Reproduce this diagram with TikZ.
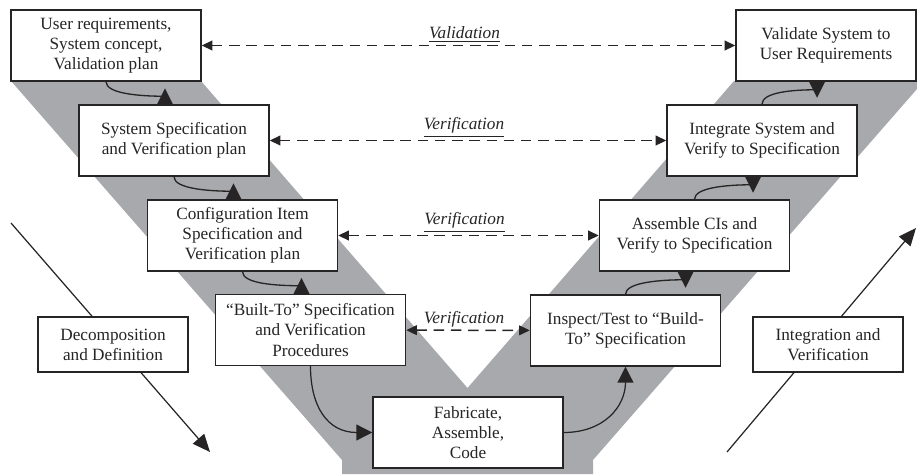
\documentclass[tikz,border=0pt]{standalone}
\usepackage{fontspec}
\setmainfont{Liberation Serif}
\usetikzlibrary{arrows.meta,calc}
\definecolor{bandgray}{RGB}{167,169,172}
\definecolor{inkgray}{RGB}{38,36,36}

\begin{document}
\begin{tikzpicture}[x = 0.02cm, y = -0.02cm,
        stagebox/.style = {draw = inkgray, line width = 0.85pt, fill = white, text = inkgray,
            align = center, minimum width = 3.8cm, minimum height = 1.42cm, inner sep = 2pt,
            font = \fontsize{9.8}{11.4}\selectfont},
        sidebox/.style = {stagebox, minimum width = 3cm, minimum height = 1.1cm},
        checkline/.style = {draw = inkgray, line width = 0.85pt, dash pattern = on 6pt off 3.8pt,
            {Triangle[length = 6pt, width = 5.5pt]}-{Triangle[length = 6pt, width = 5.5pt]}},
        checklabel/.style = {anchor = south, inner sep = 1.5pt, xshift = -0.08cm, text = inkgray,
            font = \fontsize{9.8}{11.4}\selectfont\itshape},
        flow/.style = {draw = inkgray, line width = 0.7pt, -{Triangle[length = 9pt, width = 9pt]}},
        link/.style = {draw = inkgray, line width = 0.75pt}]
        \useasboundingbox (0, 0) rectangle (917, 474);
        \fill [bandgray] (11, 81) -- (201, 81) -- (467.5, 388) -- (734, 81) -- (924, 81)
            -- (593, 460) -- (593, 474) -- (342, 474) -- (342, 460) -- cycle;
        \coordinate (decstart) at (11, 223);
        \coordinate (decend) at (210, 452);
        \coordinate (intstart) at (727, 452);
        \coordinate (intend) at (916, 228);
        \draw [flow, -{Triangle[length = 10pt, width = 8.5pt]}] (decstart) -- (decend);
        \draw [flow, -{Triangle[length = 10pt, width = 8.5pt]}] (intstart) -- (intend);
        \node [stagebox] (userreq) at (106, 45.5) {User requirements,\\System concept,\\Validation plan};
        \node [stagebox] (sysspec) at (174, 140.5) {System Specification\\and Verification plan};
        \node [stagebox] (cispec) at (242.5, 235.5) {Configuration Item\\Specification and\\Verification plan};
        \node [stagebox] (buildto) at (310.5, 330) {``Built-To'' Specification\\and Verification\\Procedures};
        \node [stagebox] (fab) at (468, 432.5) {Fabricate,\\Assemble,\\Code};
        \node [stagebox] (inspect) at (625.5, 330.5) {Inspect/Test to ``Build-\\To'' Specification};
        \node [stagebox] (assemble) at (694.5, 235.5) {Assemble CIs and\\Verify to Specification};
        \node [stagebox] (integrate) at (762, 140.5) {Integrate System and\\Verify to Specification};
        \node [stagebox, minimum width = 3.6cm] (validate) at (826, 45.5) {Validate System to\\User Requirements};
        \node [sidebox] (decomp) at (113, 344.5) {Decomposition\\and Definition};
        \node [sidebox] (integ) at (828, 344.5) {Integration and\\Verification};
        \foreach \a/\b in {userreq/sysspec, sysspec/cispec, cispec/buildto} {
            \draw [link] (\a.south) .. controls +(0, 12) and +(-25, 0) .. ($(\b.north) + (-9, -8)$);
            \fill [inkgray] ($(\b.north) + (-9, 0)$) +(-8, 0) -- +(8, 0) -- +(0, -16) -- cycle;
        }
        \foreach \a/\b in {inspect/assemble, assemble/integrate, integrate/validate} {
            \draw [link] (\a.north) .. controls +(0, -12) and +(-25, 0) .. ($(\b.south) + (-9, 8)$);
            \fill [inkgray] ($(\b.south) + (-9, 0)$) +(-8, 0) -- +(8, 0) -- +(0, 16) -- cycle;
        }
        \draw [flow] (buildto.south) .. controls +(0, 40) and +(-45, 0) .. (fab.west);
        \draw [flow] (fab.east) .. controls +(40, 0) and +(0, 40) .. (inspect.south);
        \draw [checkline] (userreq) -- node [checklabel] {\underline{Validation}} (validate);
        \draw [checkline] (sysspec) -- node [checklabel] {\underline{Verification}} (integrate);
        \draw [checkline] (cispec) -- node [checklabel] {\underline{Verification}} (assemble);
        \draw [checkline] (buildto) -- node [checklabel] {Verification} (inspect);
    \end{tikzpicture}
\end{document}
